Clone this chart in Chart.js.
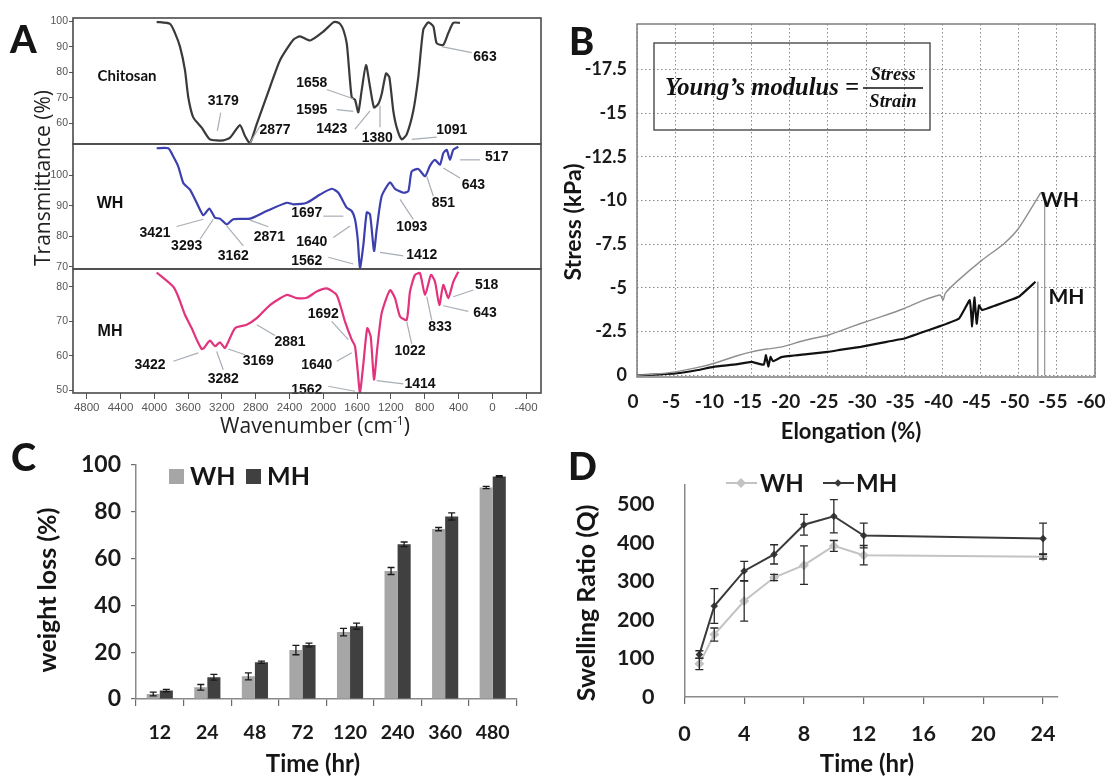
<!DOCTYPE html>
<html><head><meta charset="utf-8">
<script src="https://cdn.jsdelivr.net/npm/chart.js@4.4.0/dist/chart.umd.min.js"></script>
<style>
html,body{margin:0;padding:0;background:#fff;}
#fig{position:relative;width:1106px;height:778px;overflow:hidden;background:#fff;}
canvas{position:absolute;}
.t{position:absolute;white-space:nowrap;color:#151515;line-height:1;}
.c{transform:translate(-50%,-50%);}
.v{transform:translate(-50%,-50%) rotate(-90deg);}
.letter{font-family:Lato,sans-serif;font-weight:900;font-size:38px;}
.bt{font-family:Lato,sans-serif;font-weight:bold;}
.ot{font-family:"Open Sans",sans-serif;color:#222;}
</style></head><body>
<div id="fig">
  <canvas id="a1" width="550" height="148" style="left:0;top:0"></canvas>
  <canvas id="a2" width="550" height="133" style="left:0;top:140px"></canvas>
  <canvas id="a3" width="550" height="180" style="left:0;top:265px"></canvas>
  <canvas id="b" width="546" height="450" style="left:560px;top:0"></canvas>
  <canvas id="c" width="530" height="310" style="left:0;top:440px"></canvas>
  <canvas id="d" width="545" height="310" style="left:545px;top:440px"></canvas>

  <div class="t letter" style="left:10px;top:19px">A</div>
  <div class="t letter" style="left:569px;top:21px">B</div>
  <div class="t letter" style="left:11px;top:437px">C</div>
  <div class="t letter" style="left:568px;top:446px">D</div>

  <div class="t ot v" style="left:42px;top:178px;font-size:21px">Transmittance (%)</div>
  <div class="t ot c" style="left:315px;top:425px;font-size:21px">Wavenumber (cm<sup style="font-size:12px">-1</sup>)</div>
  <div class="t bt v" style="left:572px;top:222px;font-size:23px">Stress (kPa)</div>
  <div class="t bt c" style="left:851px;top:431px;font-size:22px">Elongation (%)</div>
  <div class="t bt v" style="left:46px;top:590px;font-size:25px">weight loss (%)</div>
  <div class="t bt c" style="left:313px;top:763px;font-size:24px">Time (hr)</div>
  <div class="t bt v" style="left:585px;top:603px;font-size:25px">Swelling Ratio (Q)</div>
  <div class="t bt c" style="left:867px;top:763px;font-size:24px">Time (hr)</div>
</div>
<script>
// ================= DATA =================
// Panel A - FTIR spectra (wavenumber cm-1, transmittance %)
const wnTicks = [4800,4400,4000,3600,3200,2800,2400,2000,1600,1200,800,400,0,-400];

const chitosanWn = [3972,3814,3755,3696,3637,3598,3539,3439,3341,3183,3104,2986,2927,2868,2788,2631,2512,2355,2276,2157,2000,1882,1842,1802,1763,1723,1704,1664,1625,1586,1546,1495,1447,1400,1349,1309,1258,1219,1172,1131,1072,1013,935,876,817,757,698,658,580,521,462,383];
const chitosanT  = [99.8,99.0,95.4,90.1,80.9,70.3,62.4,58.4,53.8,53.4,54.5,59.4,55.1,52.4,59.8,74.3,84.8,92.8,94.1,92.5,96.0,99.6,99.7,99.0,96.7,91.4,84.8,70.3,69.3,64.4,73.0,82.9,74.3,66.3,67.7,71.6,79.6,78.2,65.0,58.4,53.8,55.8,65.0,78.2,96.7,99.6,98.0,91.4,90.8,95.4,99.4,99.4];

const whWn = [3972,3834,3775,3716,3657,3578,3498,3420,3349,3282,3223,3143,3065,2867,2670,2433,2355,2196,2039,1900,1822,1723,1664,1625,1593,1566,1527,1486,1447,1400,1368,1309,1211,1152,1053,994,954,876,796,737,678,619,580,540,501,462,403];
const whT  = [108.9,108.9,106.2,102.9,97.5,95.3,91.0,86.9,89.1,86.1,85.8,83.9,85.6,85.8,88.3,91.0,90.5,91.0,93.7,95.6,94.3,89.4,88.3,85.6,79.1,69.6,76.9,87.8,87.2,75.2,82.3,93.2,97.7,95.6,94.3,94.8,101.3,102.1,99.7,103.2,105.1,103.5,107.3,108.4,105.1,108.4,109.4];

const mhWn = [3972,3775,3716,3637,3557,3498,3439,3412,3341,3282,3223,3163,3045,2907,2788,2631,2433,2315,2196,2078,1960,1842,1743,1664,1625,1593,1566,1527,1480,1439,1400,1361,1309,1211,1152,1092,1013,974,915,856,796,726,678,627,580,521,462,403];
const mhT  = [84.1,80.0,77.1,71.9,68.0,64.7,62.0,62.3,64.4,62.8,63.9,62.3,68.0,69.0,70.9,74.7,77.6,76.7,76.8,78.6,79.5,77.6,69.9,64.7,62.8,55.6,49.4,57.5,68.0,65.6,53.2,62.3,72.4,79.0,76.7,71.4,70.4,78.6,83.4,83.9,77.6,83.4,81.4,74.7,80.5,76.7,81.4,84.3];

const chitosanTicks = [60,70,80,90,100];
const whTicks = [70,80,90,100];
const mhTicks = [50,60,70,80];

const chitosanPeaks = ['3179','2877','1658','1595','1423','1380','1091','663'];
const chitosanPeakWn = [3254,2867,1645,1645,1447,1329,954,599];
const chitosanPeakT  = [57.1,52.5,69.7,64.8,65.0,67.0,53.8,90.1];

const whPeaks = ['3421','3293','3162','2871','1697','1640','1562','1412','1093','851','643','517'];
const whPeakWn = [3420,3302,3143,2867,1763,1684,1645,1329,1092,776,580,382];
const whPeakT  = [85.6,85.6,83.4,85.3,86.6,83.4,70.9,74.7,92.1,99.7,102.4,105.1];

const mhPeaks = ['3422','3282','3169','2881','1692','1640','1562','1414','1022','833','643','518'];
const mhPeakWn = [3479,3262,3124,2788,1704,1664,1625,1368,1013,776,580,462];
const mhPeakT  = [60.9,61.3,62.0,69.0,64.7,60.9,49.8,52.9,69.9,77.1,74.5,77.1];

// Panel B - stress / elongation
const elongTicks = [0,-5,-10,-15,-20,-25,-30,-35,-40,-45,-50,-55,-60];
const stressTicks = [0,-2.5,-5,-7.5,-10,-12.5,-15,-17.5];
const whElong  = [0,-2,-5,-8,-10,-13,-15,-17,-19,-22,-25,-27,-29.3,-32,-35,-37,-39.7,-40.1,-40.4,-42,-45.2,-48,-50,-52.9];
const whStress = [0,-0.05,-0.19,-0.45,-0.67,-1.1,-1.34,-1.5,-1.62,-2.0,-2.29,-2.6,-2.96,-3.35,-3.82,-4.2,-4.59,-4.3,-4.7,-5.4,-6.59,-7.5,-8.41,-10.45];
const mhElong  = [0,-3,-5,-8,-10,-13,-15,-16.6,-16.9,-17.2,-17.5,-17.8,-19,-22,-25,-27,-29.3,-32,-35,-37,-39.7,-42.2,-43.6,-43.9,-44.2,-44.5,-44.8,-45.2,-47,-50,-52.2];
const mhStress = [0,-0.05,-0.1,-0.3,-0.48,-0.62,-0.76,-0.6,-1.15,-0.5,-1.05,-0.8,-1.05,-1.2,-1.34,-1.48,-1.62,-1.85,-2.1,-2.4,-2.81,-3.25,-4.3,-2.8,-4.45,-2.95,-4.0,-3.73,-4.0,-4.49,-5.35];
const whBreak = -53.4;
const mhBreak = -52.5;

// Panel C - weight loss
const lossTimes = ['12','24','48','72','120','240','360','480'];
const whLoss = [2.1,5.0,9.7,20.9,28.6,54.7,72.6,90.4];
const mhLoss = [3.6,9.3,15.7,23.1,31.1,66.1,78.0,95.1];
const whLossErr = [0.8,1.2,1.5,2.0,1.6,1.5,0.7,0.5];
const mhLossErr = [0.5,1.2,0.5,0.8,1.3,1.0,1.5,0.3];
const lossTicks = [0,20,40,60,80,100];

// Panel D - swelling ratio
const swellTime = [1,2,4,6,8,10,12,24];
const whSwell = [86,162,249,310,342,392,368,364];
const mhSwell = [110,236,327,370,447,469,419,411];
const whSwellErr = [15,17,52,8,50,14,25,6];
const mhSwellErr = [10,45,25,25,27,43,32,40];
const swellTimeTicks = [0,4,8,12,16,20,24];
const swellTicks = [0,100,200,300,400,500];

// ================= LAYOUT / STYLE =================
const chitosanPeakOffsets = [[6,-30,3.4,-18.3],[25,-13.4,10,-16.7],[-41.6,-16.6,-26.6,-9.3],[-41.6,-1.7,-16.6,-1.7],[-38.3,18.3,-15,18.3],[-2.7,32.3,0,21.7],[40,-10,25,-2.3],[43.3,10,30,6]];
const whPeakOffsets = [[-48.3,13.3,-26.6,7.3],[-26.6,26.7,-13.3,20],[6.6,29.3,16.6,20],[19.3,16.6,18.3,6.6],[-36.6,-3.4,-20,0],[-38.3,16,-16.7,11.6],[-46.6,-3.3,-25,-6.7],[41.7,2.7,23.3,3.4],[11.7,27.3,13.3,20],[16.6,26.6,6.6,20],[30,16.7,16.7,10],[36.7,-3.3,20,0]];
const mhPeakOffsets = [[-48.3,11.7,-25,8.4],[6.6,27.6,6.6,18.3],[30,11.7,16.7,5.7],[33.3,17.3,18.3,10.7],[-25,-25.7,-16.6,-18.3],[-35,11.7,-15,8.4],[-48.3,-1.7,-26.7,-5],[43.3,3.3,26.6,3.3],[3.3,29.3,5,22.3],[13.3,30,5,23.3],[41.7,7.3,25,5.7],[33.4,-11.7,20,-6.7]];

const pairs = (xs, ys) => xs.map((x, i) => ({x: x, y: ys[i]}));
const boldLato = s => ({family: 'Lato', size: s, weight: 'bold'});
const plain = v => String(v);

function framePlugin(color, width) {
  return {id: 'frame', afterDraw(chart) {
    const {ctx, chartArea: a} = chart;
    ctx.save(); ctx.strokeStyle = color; ctx.lineWidth = width;
    ctx.strokeRect(a.left, a.top, a.right - a.left, a.bottom - a.top);
    ctx.restore();
  }};
}

function peakPlugin(o) {
  return {id: 'peaks', afterDatasetsDraw(chart) {
    const {ctx, chartArea: a} = chart;
    const xs = chart.scales.x, ys = chart.scales.y;
    ctx.save();
    ctx.fillStyle = '#111'; ctx.textAlign = 'center'; ctx.textBaseline = 'middle';
    ctx.font = o.nameFont;
    ctx.fillText(o.name, a.left + o.nameDx, a.top + o.nameDy);
    o.peaks.forEach((txt, i) => {
      const tx = xs.getPixelForValue(o.peakWn[i]);
      const ty = ys.getPixelForValue(o.peakT[i]);
      const [dx, dy, lx, ly] = o.offs[i];
      ctx.strokeStyle = '#a7aeb6'; ctx.lineWidth = 1.2;
      ctx.beginPath(); ctx.moveTo(tx + lx, ty + ly); ctx.lineTo(tx, ty); ctx.stroke();
      ctx.font = 'bold 14px "Liberation Sans"';
      ctx.fillStyle = '#111';
      ctx.fillText(txt, tx + dx, ty + dy + 0.5);
    });
    ctx.restore();
  }};
}

function makeSpectrum(id, o) {
  return new Chart(document.getElementById(id), {
    type: 'scatter',
    data: {datasets: [{data: pairs(o.wn, o.t), showLine: true, borderColor: o.color, borderWidth: 2.2,
      pointRadius: 0, tension: 0.2, fill: false}]},
    options: {
      responsive: false, animation: false, events: [],
      layout: {padding: {top: o.padTop, bottom: o.padBottom, left: 0, right: 9}},
      plugins: {legend: {display: false}, tooltip: {enabled: false}},
      scales: {
        x: {type: 'linear', reverse: true, min: -576, max: 4962, display: o.showX,
          afterBuildTicks: s => { s.ticks = wnTicks.map(v => ({value: v})); },
          afterFit: s => { if (o.showX) s.height = o.xHeight; s.paddingLeft = 0; s.paddingRight = 0; },
          grid: {display: true, drawOnChartArea: false, tickLength: 6, color: '#555', lineWidth: 1},
          border: {display: false},
          ticks: {padding: 2, autoSkip: false, maxRotation: 0, color: '#555', callback: plain,
            font: {family: '"Liberation Sans Narrow", "Liberation Sans"', size: 11.5}}
        },
        y: {type: 'linear', min: o.yMin, max: o.yMax,
          afterBuildTicks: s => { s.ticks = o.yTicks.map(v => ({value: v})); },
          afterFit: s => { s.width = 73; s.paddingTop = 0; s.paddingBottom = 0; },
          grid: {display: true, drawOnChartArea: false, tickLength: 4, color: '#555'},
          border: {display: false},
          ticks: {padding: 1, color: '#555', callback: plain, font: {family: '"Liberation Sans Narrow", "Liberation Sans"', size: 10.5}}
        }
      }
    },
    plugins: [framePlugin('#4a4a4a', 1.6), peakPlugin(o)]
  });
}

makeSpectrum('a1', {wn: chitosanWn, t: chitosanT, color: '#3a3a3a', yMin: 52, yMax: 101.3, yTicks: chitosanTicks,
  showX: false, padTop: 18, padBottom: 4, name: 'Chitosan', nameFont: 'bold 15px Lato', nameDx: 54, nameDy: 58.5,
  peaks: chitosanPeaks, peakWn: chitosanPeakWn, peakT: chitosanPeakT, offs: chitosanPeakOffsets});
makeSpectrum('a2', {wn: whWn, t: whT, color: '#3c3fae', yMin: 69.25, yMax: 110.3, yTicks: whTicks,
  showX: false, padTop: 4, padBottom: 4, name: 'WH', nameFont: 'bold 16px "Liberation Sans"', nameDx: 37, nameDy: 59.5,
  peaks: whPeaks, peakWn: whPeakWn, peakT: whPeakT, offs: whPeakOffsets});
makeSpectrum('a3', {wn: mhWn, t: mhT, color: '#e2337d', yMin: 49.3, yMax: 85.1, yTicks: mhTicks,
  showX: true, xHeight: 52, padTop: 4, padBottom: 0, name: 'MH', nameFont: 'bold 16px "Liberation Sans"', nameDx: 37, nameDy: 62.5,
  peaks: mhPeaks, peakWn: mhPeakWn, peakT: mhPeakT, offs: mhPeakOffsets});

// ---------- Panel B ----------
const bAnnot = {id: 'bAnnot', afterDraw(chart) {
  const {ctx} = chart;
  const xs = chart.scales.x, ys = chart.scales.y;
  ctx.save();
  ctx.strokeStyle = '#555'; ctx.lineWidth = 1.5;
  ctx.strokeRect(94, 43, 276, 87);
  ctx.fillStyle = '#111'; ctx.textBaseline = 'middle';
  let fs = 22;
  ctx.font = 'italic bold ' + fs + 'px "Liberation Serif"';
  const w = ctx.measureText('Young\u2019s modulus =').width;
  fs = fs * 194 / w;
  ctx.font = 'italic bold ' + fs.toFixed(1) + 'px "Liberation Serif"';
  ctx.textAlign = 'left';
  ctx.fillText('Young\u2019s modulus =', 105, 89);
  ctx.font = 'italic bold 18.5px "Liberation Serif"';
  ctx.textAlign = 'center';
  ctx.fillText('Stress', 333, 75);
  ctx.fillText('Strain', 333, 102);
  ctx.beginPath(); ctx.lineWidth = 1.5; ctx.strokeStyle = '#111';
  ctx.moveTo(303, 88); ctx.lineTo(363, 88); ctx.stroke();
  ctx.font = 'bold 21px Lato';
  const wx = xs.getPixelForValue(whElong[whElong.length - 1]), wy = ys.getPixelForValue(whStress[whStress.length - 1]);
  const mx = xs.getPixelForValue(mhElong[mhElong.length - 1]), my = ys.getPixelForValue(mhStress[mhStress.length - 1]);
  ctx.fillText('WH', wx + 19, wy + 8);
  ctx.fillText('MH', mx + 31, my + 15);
  ctx.restore();
}};

new Chart(document.getElementById('b'), {
  type: 'scatter',
  data: {datasets: [
    {data: pairs(whElong, whStress), showLine: true, borderColor: '#8f8f8f', borderWidth: 1.4, pointRadius: 0, tension: 0.2},
    {data: pairs(mhElong, mhStress), showLine: true, borderColor: '#111', borderWidth: 2.2, pointRadius: 0, tension: 0.1},
    {data: [{x: whBreak, y: whStress[whStress.length - 1]}, {x: whBreak, y: 0}], showLine: true, borderColor: '#9a9a9a', borderWidth: 1, pointRadius: 0},
    {data: [{x: mhBreak, y: mhStress[mhStress.length - 1]}, {x: mhBreak, y: 0}], showLine: true, borderColor: '#9a9a9a', borderWidth: 1, pointRadius: 0}
  ]},
  options: {
    responsive: false, animation: false, events: [],
    layout: {padding: {top: 24, right: 11, left: 0, bottom: 0}},
    plugins: {legend: {display: false}, tooltip: {enabled: false}},
    scales: {
      x: {type: 'linear', reverse: true, min: -60, max: 0,
        afterBuildTicks: s => { s.ticks = elongTicks.map(v => ({value: v})); },
        afterFit: s => { s.height = 73; s.paddingLeft = 0; s.paddingRight = 0; },
        grid: {color: '#8a8a8a', lineWidth: 1, drawTicks: false},
        border: {display: false, dash: [1.5, 2.5]},
        ticks: {padding: 13, autoSkip: false, maxRotation: 0, labelOffset: -4, color: '#1a1a1a', font: boldLato(19)}
      },
      y: {type: 'linear', reverse: true, min: -20.1, max: 0.1,
        afterBuildTicks: s => { s.ticks = stressTicks.map(v => ({value: v})); },
        afterFit: s => { s.width = 77; s.paddingTop = 0; s.paddingBottom = 0; },
        grid: {color: '#8a8a8a', lineWidth: 1, drawTicks: false},
        border: {display: false, dash: [1.5, 2.5]},
        ticks: {padding: 10, color: '#1a1a1a', font: boldLato(18)}
      }
    }
  },
  plugins: [framePlugin('#7d7d7d', 1.5), bAnnot]
});

// ---------- error bars ----------
function errorBars(errs, cap, color) {
  return {id: 'errbars', afterDatasetsDraw(chart) {
    const {ctx} = chart;
    ctx.save(); ctx.strokeStyle = color; ctx.lineWidth = 1.3;
    chart.data.datasets.forEach((ds, di) => {
      const meta = chart.getDatasetMeta(di);
      const ys = chart.scales[meta.yAxisID];
      meta.data.forEach((el, i) => {
        const raw = ds.data[i];
        const v = (typeof raw === 'object') ? raw.y : raw;
        const e = errs[di][i];
        const y1 = ys.getPixelForValue(v + e), y2 = ys.getPixelForValue(v - e);
        const x = el.x;
        ctx.beginPath();
        ctx.moveTo(x, y1); ctx.lineTo(x, y2);
        ctx.moveTo(x - cap, y1); ctx.lineTo(x + cap, y1);
        ctx.moveTo(x - cap, y2); ctx.lineTo(x + cap, y2);
        ctx.stroke();
      });
    });
    ctx.restore();
  }};
}

// ---------- Panel C ----------
const cLegend = {id: 'cLegend', afterDraw(chart) {
  const {ctx} = chart;
  ctx.save();
  ctx.font = 'bold 25px Lato'; ctx.textBaseline = 'middle'; ctx.textAlign = 'left';
  ctx.fillStyle = '#a6a6a6'; ctx.fillRect(169, 29, 15, 15);
  ctx.fillStyle = '#161616'; ctx.fillText('WH', 190, 37);
  ctx.fillStyle = '#404040'; ctx.fillRect(246, 29, 15, 15);
  ctx.fillStyle = '#161616'; ctx.fillText('MH', 267, 37);
  ctx.restore();
}};

new Chart(document.getElementById('c'), {
  type: 'bar',
  data: {labels: lossTimes, datasets: [
    {label: 'WH', data: whLoss, backgroundColor: '#a6a6a6', borderWidth: 0, categoryPercentage: 0.55, barPercentage: 1.0},
    {label: 'MH', data: mhLoss, backgroundColor: '#404040', borderWidth: 0, categoryPercentage: 0.55, barPercentage: 1.0}
  ]},
  options: {
    responsive: false, animation: false, events: [],
    layout: {padding: {top: 25, right: 13.5, left: 0, bottom: 0}},
    plugins: {legend: {display: false}, tooltip: {enabled: false}},
    scales: {
      x: {type: 'category', offset: true,
        afterFit: s => { s.height = 51; s.paddingLeft = 0; s.paddingRight = 0; },
        grid: {offset: true, drawOnChartArea: false, tickLength: 7, color: '#6a6a6a', lineWidth: 1.2},
        border: {display: true, color: '#8a8a8a', width: 1.5},
        ticks: {padding: 15, color: '#1a1a1a', font: boldLato(19.5), maxRotation: 0, autoSkip: false}
      },
      y: {type: 'linear', min: 0, max: 100,
        afterBuildTicks: s => { s.ticks = lossTicks.map(v => ({value: v})); },
        afterFit: s => { s.width = 136; s.paddingTop = 0; s.paddingBottom = 0; },
        grid: {drawOnChartArea: false, tickLength: 5, color: '#6a6a6a', lineWidth: 1.2},
        border: {display: true, color: '#8a8a8a', width: 1.5},
        ticks: {padding: 10, color: '#1a1a1a', font: boldLato(23)}
      }
    }
  },
  plugins: [errorBars([whLossErr, mhLossErr], 3.5, '#1a1a1a'), cLegend]
});

// ---------- Panel D ----------
const dLegend = {id: 'dLegend', afterDraw(chart) {
  const {ctx} = chart;
  ctx.save();
  const y = 43;
  function diamond(cx, r, col) {
    ctx.fillStyle = col; ctx.beginPath();
    ctx.moveTo(cx, y - r); ctx.lineTo(cx + r, y); ctx.lineTo(cx, y + r); ctx.lineTo(cx - r, y); ctx.closePath(); ctx.fill();
  }
  ctx.lineWidth = 2;
  ctx.strokeStyle = '#c3c3c3'; ctx.beginPath(); ctx.moveTo(181, y); ctx.lineTo(212, y); ctx.stroke();
  diamond(196, 5, '#c3c3c3');
  ctx.strokeStyle = '#3a3a3a'; ctx.beginPath(); ctx.moveTo(278, y); ctx.lineTo(309, y); ctx.stroke();
  diamond(293, 3.8, '#3a3a3a');
  ctx.font = 'bold 24px Lato'; ctx.textBaseline = 'middle'; ctx.textAlign = 'left'; ctx.fillStyle = '#161616';
  ctx.fillText('WH', 215, y + 1);
  ctx.fillText('MH', 311, y + 1);
  ctx.restore();
}};

new Chart(document.getElementById('d'), {
  type: 'scatter',
  data: {datasets: [
    {label: 'WH', data: pairs(swellTime, whSwell), showLine: true, borderColor: '#c3c3c3', borderWidth: 2,
      pointStyle: 'rectRot', pointRadius: 5, pointBackgroundColor: '#c3c3c3', pointBorderColor: '#c3c3c3', pointBorderWidth: 0},
    {label: 'MH', data: pairs(swellTime, mhSwell), showLine: true, borderColor: '#3a3a3a', borderWidth: 2,
      pointStyle: 'rectRot', pointRadius: 3.8, pointBackgroundColor: '#3a3a3a', pointBorderColor: '#3a3a3a', pointBorderWidth: 0}
  ]},
  options: {
    responsive: false, animation: false, events: [],
    layout: {padding: {top: 45, right: 32, left: 0, bottom: 0}},
    plugins: {legend: {display: false}, tooltip: {enabled: false}},
    scales: {
      x: {type: 'linear', min: 0, max: 25,
        afterBuildTicks: s => { s.ticks = swellTimeTicks.map(v => ({value: v})); },
        afterFit: s => { s.height = 53; s.paddingLeft = 0; s.paddingRight = 0; },
        grid: {drawOnChartArea: false, tickLength: 7, color: '#6a6a6a', lineWidth: 1.2},
        border: {display: true, color: '#8a8a8a', width: 1.5},
        ticks: {padding: 17, color: '#1a1a1a', font: boldLato(21.5), maxRotation: 0, autoSkip: false}
      },
      y: {type: 'linear', min: 0, max: 550,
        afterBuildTicks: s => { s.ticks = swellTicks.map(v => ({value: v})); },
        afterFit: s => { s.width = 139.4; s.paddingTop = 0; s.paddingBottom = 0; },
        grid: {display: false},
        border: {display: true, color: '#8a8a8a', width: 1.5},
        ticks: {padding: 22, color: '#1a1a1a', font: boldLato(21.5)}
      }
    }
  },
  plugins: [errorBars([whSwellErr, mhSwellErr], 4, '#2a2a2a'), dLegend]
});
</script>
</body></html>
